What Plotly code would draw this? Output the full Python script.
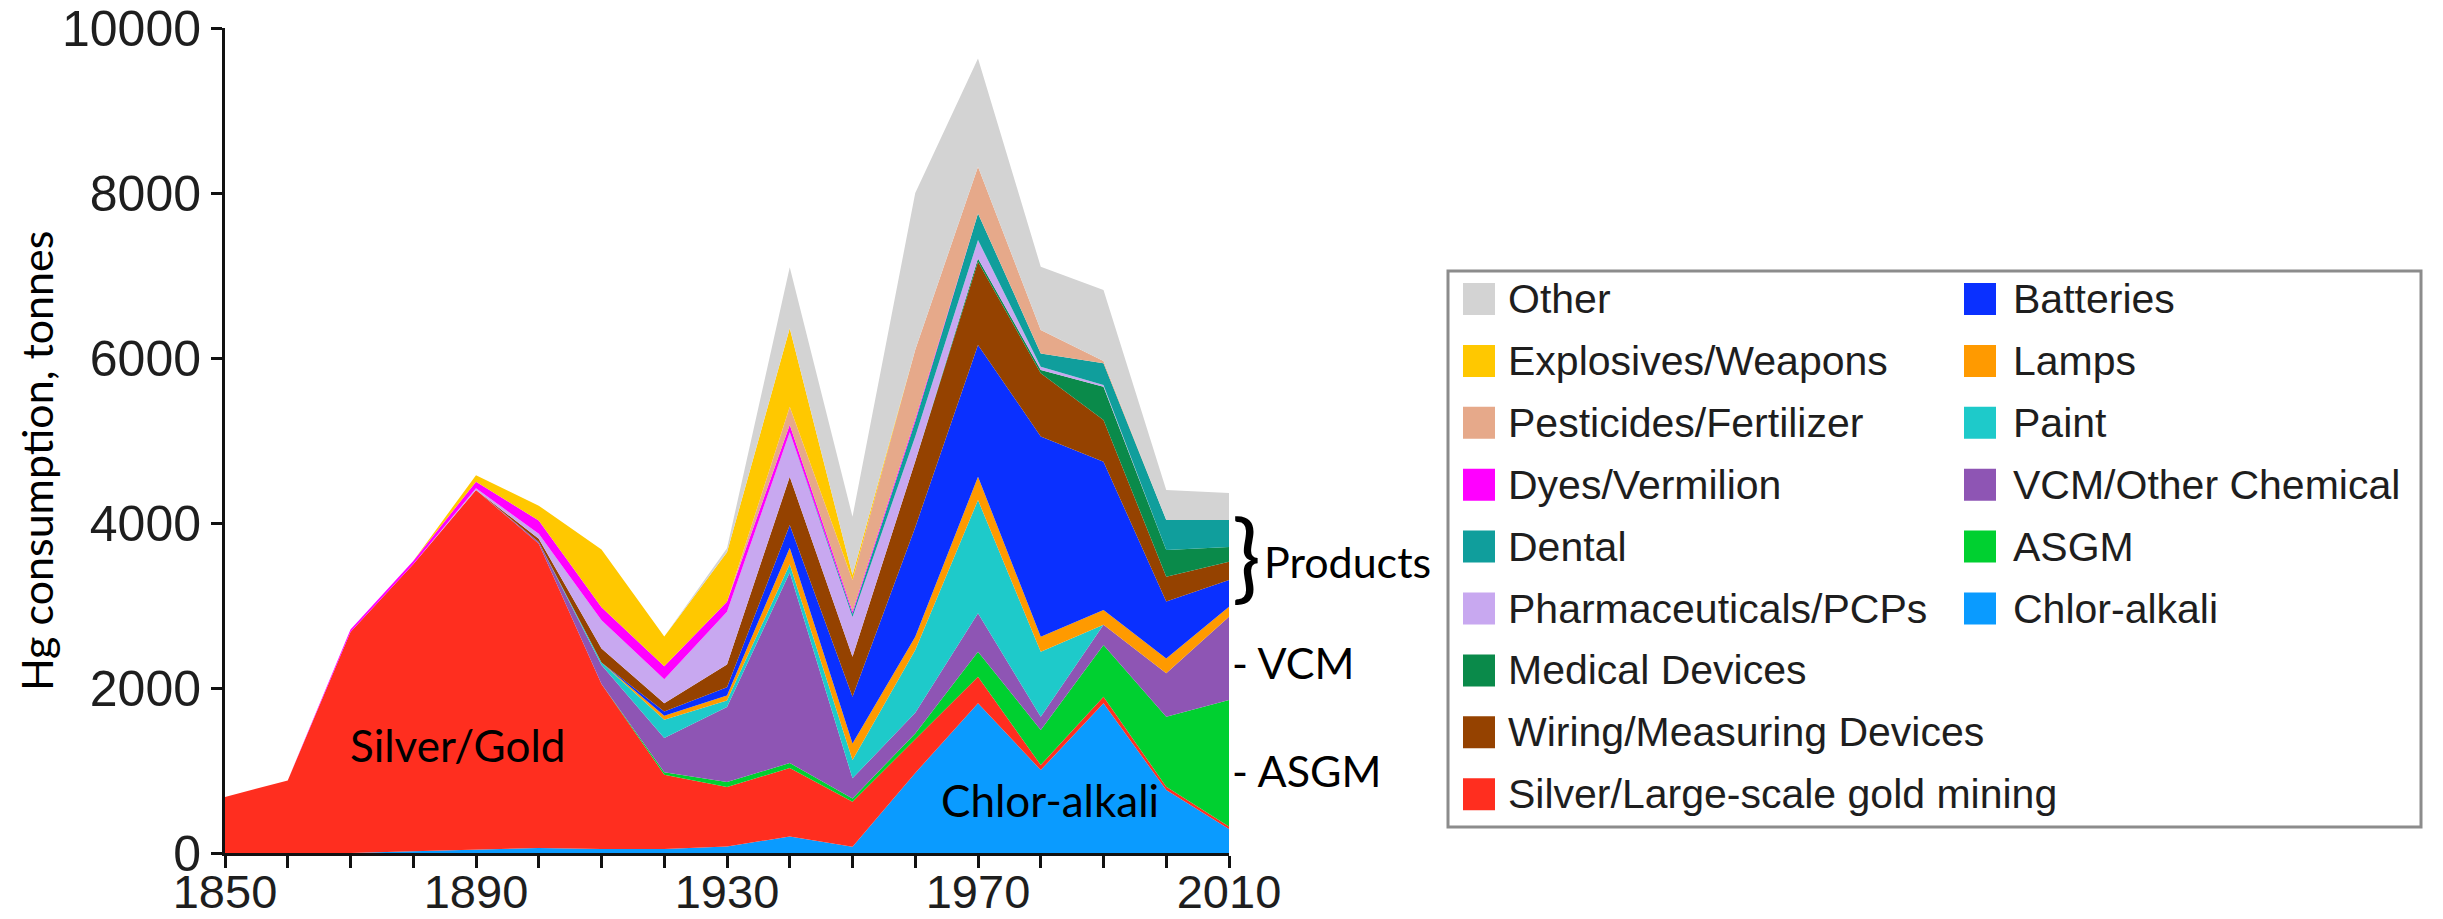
import plotly.graph_objects as go

years = [1850, 1860, 1870, 1880, 1890, 1900, 1910, 1920, 1930, 1940,
         1950, 1960, 1970, 1980, 1990, 2000, 2010]

# Stacked from bottom to top (tonnes Hg)
chlor_alkali = [0, 0, 0, 20, 40, 60, 50, 50, 80, 200, 77, 970, 1814, 1006, 1814, 763, 290]
silver_gold = [680, 880, 2680, 3480, 4360, 3690, 2000, 900, 720, 830, 545, 410, 323, 61, 81, 41, 30]
asgm = [0, 0, 0, 0, 0, 0, 0, 30, 60, 60, 40, 70, 303, 424, 625, 848, 1535]
vcm_chem = [0, 0, 0, 0, 0, 20, 230, 415, 910, 2310, 243, 250, 465, 161, 247, 526, 1010]
paint = [0, 0, 0, 0, 0, 0, 30, 220, 80, 100, 222, 760, 1373, 788, 0, 0, 0]
lamps = [0, 0, 0, 0, 0, 0, 0, 50, 60, 200, 200, 160, 283, 182, 178, 181, 121]
batteries = [0, 0, 0, 0, 0, 0, 0, 50, 100, 276, 568, 1330, 1596, 2428, 1798, 691, 323]
wiring = [0, 0, 0, 0, 0, 40, 170, 100, 275, 584, 485, 800, 1010, 765, 505, 300, 222]
medical = [0, 0, 0, 0, 0, 0, 0, 0, 0, 0, 0, 0, 40, 40, 404, 323, 178]
pharma = [0, 0, 0, 0, 20, 60, 340, 290, 640, 540, 480, 300, 223, 40, 20, 0, 0]
dental = [0, 0, 0, 0, 0, 0, 0, 0, 0, 0, 40, 180, 323, 161, 263, 363, 327]
dyes = [0, 0, 30, 40, 80, 160, 160, 160, 120, 90, 30, 30, 0, 0, 0, 0, 0]
pesticides = [0, 0, 0, 0, 0, 0, 0, 0, 0, 220, 380, 840, 565, 283, 30, 0, 0]
explosives = [0, 0, 0, 0, 80, 180, 700, 360, 600, 950, 60, 0, 0, 0, 0, 0, 0]
other = [0, 0, 0, 0, 0, 0, 0, 0, 50, 740, 707, 1900, 1313, 767, 860, 364, 328]

series = [
    ("Chlor-alkali", chlor_alkali, "#0a9bff"),
    ("Silver/Large-scale gold mining", silver_gold, "#ff2e1f"),
    ("ASGM", asgm, "#00d030"),
    ("VCM/Other Chemical", vcm_chem, "#8e55b4"),
    ("Paint", paint, "#1ecaca"),
    ("Lamps", lamps, "#ff9a00"),
    ("Batteries", batteries, "#0a30ff"),
    ("Wiring/Measuring Devices", wiring, "#954200"),
    ("Medical Devices", medical, "#0a8a4a"),
    ("Pharmaceuticals/PCPs", pharma, "#c8a8f0"),
    ("Dental", dental, "#109e9c"),
    ("Dyes/Vermilion", dyes, "#ff00ff"),
    ("Pesticides/Fertilizer", pesticides, "#e6a98a"),
    ("Explosives/Weapons", explosives, "#ffc800"),
    ("Other", other, "#d3d3d3"),
]
colors = {name: c for name, _, c in series}

legend_left = ["Other", "Explosives/Weapons", "Pesticides/Fertilizer", "Dyes/Vermilion",
               "Dental", "Pharmaceuticals/PCPs", "Medical Devices",
               "Wiring/Measuring Devices", "Silver/Large-scale gold mining"]
legend_right = ["Batteries", "Lamps", "Paint", "VCM/Other Chemical", "ASGM", "Chlor-alkali"]

x_ticks = list(range(1850, 2011, 10))
x_ticktext = [str(y) if (y - 1850) % 40 == 0 else "" for y in x_ticks]
y_ticks = [0, 2000, 4000, 6000, 8000, 10000]
y_ticktext = [str(v) for v in y_ticks]

# The page body has an 8px default margin: the figure is drawn 8px in from the corner.
OFF = 8
W, H = 2443 - 2 * OFF, 919 - 2 * OFF
L, R, T, B = 225, 1229, 28, 853  # plot area, page pixels


def px(x):
    return (x - L) / (R - L)


def py(y):
    return (B - y) / (B - T)


fig = go.Figure()
for name, vals, col in series:
    fig.add_trace(go.Scatter(
        x=years, y=vals, name=name, mode="lines", stackgroup="one",
        line=dict(width=0, color=col), fillcolor=col, showlegend=False,
        hoverinfo="x+y+name"))

shapes = []
annotations = []

# Legend box
shapes.append(dict(type="rect", xref="paper", yref="paper",
                   x0=px(1448), x1=px(2421), y0=py(827), y1=py(271),
                   line=dict(color="#8c8c8c", width=3), fillcolor="rgba(0,0,0,0)"))

row0, step = 299, 61.9
for col_names, sx, tx in ((legend_left, 1463, 1506), (legend_right, 1964, 2011)):
    for i, name in enumerate(col_names):
        cy = row0 + i * step
        shapes.append(dict(type="rect", xref="paper", yref="paper",
                           x0=px(sx), x1=px(sx + 32), y0=py(cy + 16), y1=py(cy - 16),
                           line=dict(width=0), fillcolor=colors[name]))
        annotations.append(dict(xref="paper", yref="paper", x=px(tx), y=py(cy),
                                text=name, showarrow=False, xanchor="left", yanchor="middle",
                                font=dict(family="Liberation Sans, Arial", size=41, color="#1e1e1e")))

lato = "Lato, Open Sans, sans-serif"
# Y-axis title
annotations.append(dict(xref="paper", yref="paper", x=px(36), y=py(461),
                        text="Hg consumption, tonnes", textangle=-90, showarrow=False,
                        xanchor="center", yanchor="middle",
                        font=dict(family=lato, size=43, color="#000")))
# In-chart labels
annotations.append(dict(xref="x", yref="y", x=1887, y=1310, text="Silver/Gold",
                        showarrow=False, font=dict(family=lato, size=44, color="#000")))
annotations.append(dict(xref="x", yref="y", x=1981.5, y=640, text="Chlor-alkali",
                        showarrow=False, font=dict(family=lato, size=44, color="#000")))
# Right-side labels
annotations.append(dict(xref="paper", yref="paper", x=px(1246), y=py(553), text="}",
                        showarrow=False, xanchor="center", yanchor="middle",
                        font=dict(family=lato, size=96, color="#000")))
annotations.append(dict(xref="paper", yref="paper", x=px(1262), y=py(561), text="Products",
                        showarrow=False, xanchor="left", yanchor="middle",
                        font=dict(family=lato, size=43, color="#000")))
annotations.append(dict(xref="paper", yref="paper", x=px(1230), y=py(662), text="- VCM",
                        showarrow=False, xanchor="left", yanchor="middle",
                        font=dict(family=lato, size=43, color="#000")))
annotations.append(dict(xref="paper", yref="paper", x=px(1230), y=py(770), text="- ASGM",
                        showarrow=False, xanchor="left", yanchor="middle",
                        font=dict(family=lato, size=43, color="#000")))

tickfont = dict(family="Liberation Sans, Arial", size=50, color="#1e1e1e")
fig.update_layout(
    width=W, height=H,
    margin=dict(l=L - OFF, r=W - (R - OFF), t=T - OFF, b=H - (B - OFF), pad=0, autoexpand=False),
    paper_bgcolor="white", plot_bgcolor="white",
    showlegend=False,
    shapes=shapes, annotations=annotations,
    xaxis=dict(range=[1850, 2010], tickmode="array", tickvals=x_ticks, ticktext=x_ticktext,
               ticks="outside", ticklen=12, tickwidth=3, tickcolor="#111", automargin=False,
               ticklabeloverflow="allow", ticklabelstandoff=-16,
               showline=True, linecolor="#111", linewidth=3, showgrid=False, zeroline=False,
               tickfont=dict(family="Liberation Sans, Arial", size=47, color="#1e1e1e")),
    yaxis=dict(range=[0, 10000], tickmode="array", tickvals=y_ticks, ticktext=y_ticktext,
               ticks="outside", ticklen=11, tickwidth=3, tickcolor="#111", automargin=False,
               ticklabeloverflow="allow",
               showline=True, linecolor="#111", linewidth=3, showgrid=False, zeroline=False,
               tickfont=tickfont),
)

fig.write_html("out.html")
